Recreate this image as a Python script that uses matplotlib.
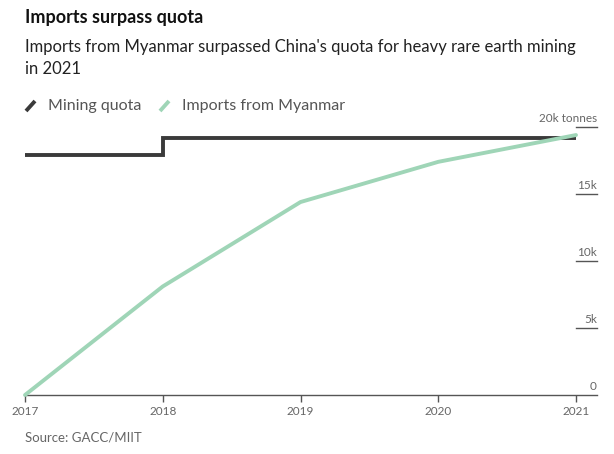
import matplotlib.pyplot as plt
import matplotlib.transforms as mtransforms
from matplotlib.lines import Line2D

plt.rcParams['font.family'] = ['Lato', 'DejaVu Sans']

# data
years = [2017, 2018, 2019, 2020, 2021]
quota = [17900, 19150, 19150, 19150, 19150]
imports = [0, 8100, 14400, 17400, 19400]
yticks = [0, 5000, 10000, 15000, 20000]
ytick_labels = ['0', '5k', '10k', '15k', '20k tonnes']

black = '#3a3a3a'
green = '#9fd5b7'
gray = '#666666'

W, H = 614, 454
fig = plt.figure(figsize=(W / 100, H / 100), dpi=100, facecolor='white')
# axes from x=25 to 597 px, y 127 to 395 px
ax = fig.add_axes([25 / W, 1 - 395 / H, 572 / W, 268 / H])

ax.plot(years, quota, drawstyle='steps-post', color=black, lw=2.8,
        solid_capstyle='butt', solid_joinstyle='miter', clip_on=False, zorder=3)
ax.plot(years, imports, color=green, lw=2.8, solid_capstyle='round', clip_on=False, zorder=4)

x_end = 2017 + 4 * 572 / 551
ax.set_xlim(2017, x_end)
ax.set_ylim(0, 20000)

for s in ['top', 'right', 'left']:
    ax.spines[s].set_visible(False)
ax.spines['bottom'].set_color('#555555')
ax.spines['bottom'].set_linewidth(1.0)

ax.set_xticks(years)
ax.set_xticklabels([str(y) for y in years])
ax.tick_params(axis='x', length=5, width=1, color='#555555', labelcolor=gray,
               labelsize=8.5, pad=3)
ax.set_yticks([])

# right-side y labels sitting on short tick lines
trans = mtransforms.blended_transform_factory(ax.transAxes, ax.transData)
x0 = (576 - 25) / 572
for v, lab in zip(yticks, ytick_labels):
    if v > 0:
        ax.plot([x0, 1.0], [v, v], color='#555555', lw=1.0, transform=trans, clip_on=False)
    ax.text(1.0, v + 250, lab, transform=trans, ha='right', va='bottom',
            fontsize=8.5, color=gray)

# titles
fig.text(25 / W, 1 - 18 / H, 'Imports surpass quota', fontsize=13, fontweight='bold',
         color='#111111', va='center', ha='left')
fig.text(25 / W, 1 - 58 / H,
         "Imports from Myanmar surpassed China's quota for heavy rare earth mining\nin 2021",
         fontsize=12, color='#222222', va='center', ha='left', linespacing=1.4)

# legend
def slash(x, color):
    fig.add_artist(Line2D([x / W, (x + 9) / W], [1 - 111 / H, 1 - 101 / H],
                          color=color, lw=2.8, solid_capstyle='butt'))

slash(26, black)
fig.text(48 / W, 1 - 106 / H, 'Mining quota', fontsize=11.5, color='#555555', va='center')
slash(160, green)
fig.text(182 / W, 1 - 106 / H, 'Imports from Myanmar', fontsize=11.5, color='#555555',
         va='center')

fig.text(25 / W, 1 - 437 / H, 'Source: GACC/MIIT', fontsize=9.5, color=gray, va='center')

fig.savefig('out.png', dpi=100, facecolor='white')
